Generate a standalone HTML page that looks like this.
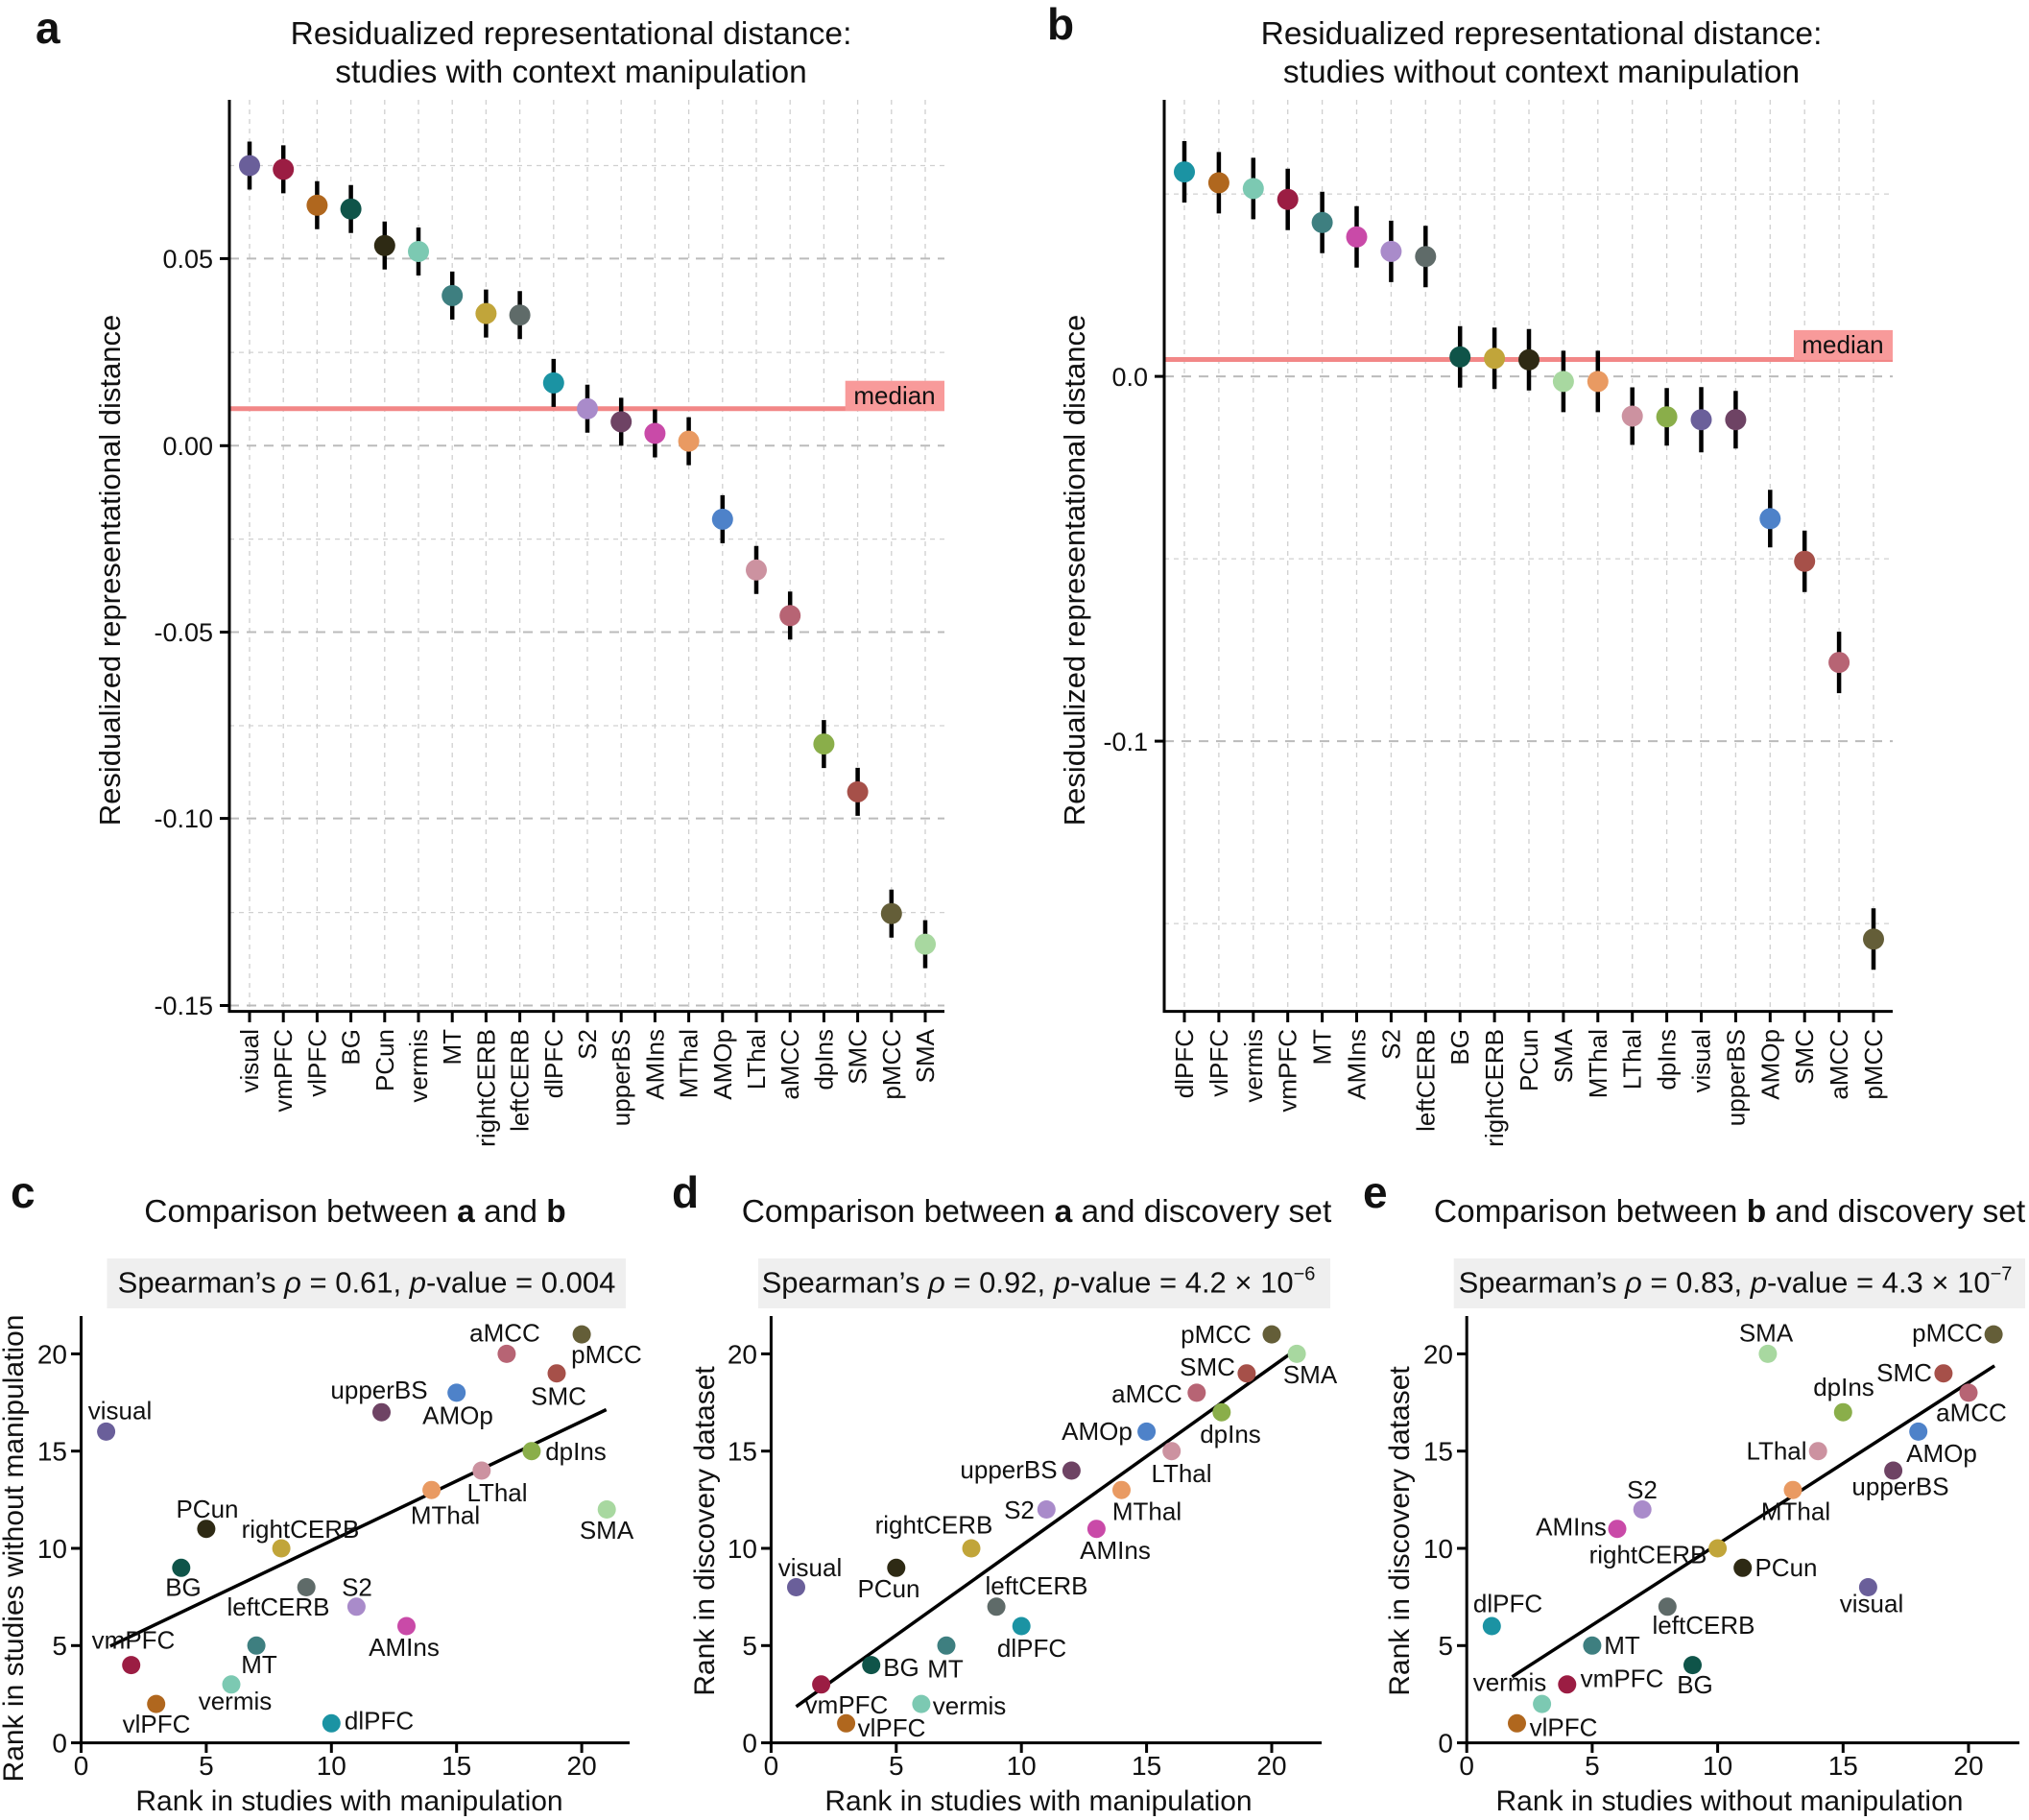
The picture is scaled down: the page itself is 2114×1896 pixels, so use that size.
<!DOCTYPE html>
<html><head><meta charset="utf-8"><style>
html,body{margin:0;padding:0;background:#fff}
svg{display:block}
text{font-family:"Liberation Sans",Arial,sans-serif;fill:#111}
</style></head><body>
<svg width="2114" height="1896" viewBox="0 0 2114 1896" xmlns="http://www.w3.org/2000/svg">
<rect width="2114" height="1896" fill="#fff"/>

<!-- ================= PANEL A ================= -->
<text x="37" y="45" font-size="46" font-weight="bold">a</text>
<text x="595" y="46" font-size="33.5" text-anchor="middle">Residualized representational distance:</text>
<text x="595" y="86" font-size="33.5" text-anchor="middle">studies with context manipulation</text>
<g stroke="#d0d0d0" stroke-width="1.3" stroke-dasharray="5,5">
<line x1="260" y1="104" x2="260" y2="1053"/><line x1="295.2" y1="104" x2="295.2" y2="1053"/><line x1="330.4" y1="104" x2="330.4" y2="1053"/><line x1="365.6" y1="104" x2="365.6" y2="1053"/><line x1="400.8" y1="104" x2="400.8" y2="1053"/><line x1="436" y1="104" x2="436" y2="1053"/><line x1="471.2" y1="104" x2="471.2" y2="1053"/><line x1="506.4" y1="104" x2="506.4" y2="1053"/><line x1="541.6" y1="104" x2="541.6" y2="1053"/><line x1="576.8" y1="104" x2="576.8" y2="1053"/><line x1="612" y1="104" x2="612" y2="1053"/><line x1="647.2" y1="104" x2="647.2" y2="1053"/><line x1="682.4" y1="104" x2="682.4" y2="1053"/><line x1="717.6" y1="104" x2="717.6" y2="1053"/><line x1="752.8" y1="104" x2="752.8" y2="1053"/><line x1="788" y1="104" x2="788" y2="1053"/><line x1="823.2" y1="104" x2="823.2" y2="1053"/><line x1="858.4" y1="104" x2="858.4" y2="1053"/><line x1="893.6" y1="104" x2="893.6" y2="1053"/><line x1="928.8" y1="104" x2="928.8" y2="1053"/><line x1="964" y1="104" x2="964" y2="1053"/>
<line x1="239" y1="172.5" x2="984" y2="172.5"/><line x1="239" y1="367.1" x2="984" y2="367.1"/><line x1="239" y1="561.6" x2="984" y2="561.6"/><line x1="239" y1="756" x2="984" y2="756"/><line x1="239" y1="950.6" x2="984" y2="950.6"/>
</g>
<g stroke="#bbb" stroke-width="2" stroke-dasharray="10,8">
<line x1="239" y1="269.4" x2="984" y2="269.4"/><line x1="239" y1="464.3" x2="984" y2="464.3"/><line x1="239" y1="658.5" x2="984" y2="658.5"/><line x1="239" y1="852.6" x2="984" y2="852.6"/><line x1="239" y1="1047.5" x2="984" y2="1047.5"/>
</g>
<line x1="239" y1="425.8" x2="984" y2="425.8" stroke="#f28787" stroke-width="5"/>
<rect x="880.7" y="396.7" width="103.3" height="31.3" fill="#f89a9a"/>
<text x="932" y="421" font-size="26" text-anchor="middle">median</text>
<g stroke="#000" stroke-width="3">
<polyline points="239,104 239,1053.6 984,1053.6" fill="none"/>
<line x1="229" y1="269.4" x2="239" y2="269.4"/><line x1="229" y1="464.3" x2="239" y2="464.3"/><line x1="229" y1="658.5" x2="239" y2="658.5"/><line x1="229" y1="852.6" x2="239" y2="852.6"/><line x1="229" y1="1047.5" x2="239" y2="1047.5"/>
<line x1="260" y1="1053" x2="260" y2="1065"/><line x1="295.2" y1="1053" x2="295.2" y2="1065"/><line x1="330.4" y1="1053" x2="330.4" y2="1065"/><line x1="365.6" y1="1053" x2="365.6" y2="1065"/><line x1="400.8" y1="1053" x2="400.8" y2="1065"/><line x1="436" y1="1053" x2="436" y2="1065"/><line x1="471.2" y1="1053" x2="471.2" y2="1065"/><line x1="506.4" y1="1053" x2="506.4" y2="1065"/><line x1="541.6" y1="1053" x2="541.6" y2="1065"/><line x1="576.8" y1="1053" x2="576.8" y2="1065"/><line x1="612" y1="1053" x2="612" y2="1065"/><line x1="647.2" y1="1053" x2="647.2" y2="1065"/><line x1="682.4" y1="1053" x2="682.4" y2="1065"/><line x1="717.6" y1="1053" x2="717.6" y2="1065"/><line x1="752.8" y1="1053" x2="752.8" y2="1065"/><line x1="788" y1="1053" x2="788" y2="1065"/><line x1="823.2" y1="1053" x2="823.2" y2="1065"/><line x1="858.4" y1="1053" x2="858.4" y2="1065"/><line x1="893.6" y1="1053" x2="893.6" y2="1065"/><line x1="928.8" y1="1053" x2="928.8" y2="1065"/><line x1="964" y1="1053" x2="964" y2="1065"/>
</g>
<g font-size="27" text-anchor="end">
<text x="222" y="279">0.05</text><text x="222" y="474">0.00</text><text x="222" y="668">-0.05</text><text x="222" y="862">-0.10</text><text x="222" y="1057">-0.15</text>
</g>
<text transform="translate(125,594) rotate(-90)" font-size="31" text-anchor="middle">Residualized representational distance</text>
<g font-size="26" text-anchor="end">
<text transform="translate(269,1072) rotate(-90)">visual</text>
<text transform="translate(304.2,1072) rotate(-90)">vmPFC</text>
<text transform="translate(339.4,1072) rotate(-90)">vlPFC</text>
<text transform="translate(374.6,1072) rotate(-90)">BG</text>
<text transform="translate(409.8,1072) rotate(-90)">PCun</text>
<text transform="translate(445,1072) rotate(-90)">vermis</text>
<text transform="translate(480.2,1072) rotate(-90)">MT</text>
<text transform="translate(515.4,1072) rotate(-90)">rightCERB</text>
<text transform="translate(550.6,1072) rotate(-90)">leftCERB</text>
<text transform="translate(585.8,1072) rotate(-90)">dlPFC</text>
<text transform="translate(621,1072) rotate(-90)">S2</text>
<text transform="translate(656.2,1072) rotate(-90)">upperBS</text>
<text transform="translate(691.4,1072) rotate(-90)">AMIns</text>
<text transform="translate(726.6,1072) rotate(-90)">MThal</text>
<text transform="translate(761.8,1072) rotate(-90)">AMOp</text>
<text transform="translate(797,1072) rotate(-90)">LThal</text>
<text transform="translate(832.2,1072) rotate(-90)">aMCC</text>
<text transform="translate(867.4,1072) rotate(-90)">dpIns</text>
<text transform="translate(902.6,1072) rotate(-90)">SMC</text>
<text transform="translate(937.8,1072) rotate(-90)">pMCC</text>
<text transform="translate(973,1072) rotate(-90)">SMA</text>
</g>
<g stroke="#000" stroke-width="4.5">
<line x1="260" y1="147.5" x2="260" y2="197.5"/><line x1="295.2" y1="151.4" x2="295.2" y2="201.4"/><line x1="330.4" y1="188.8" x2="330.4" y2="238.8"/><line x1="365.6" y1="192.7" x2="365.6" y2="242.7"/><line x1="400.8" y1="230.8" x2="400.8" y2="280.8"/><line x1="436" y1="237" x2="436" y2="287"/><line x1="471.2" y1="282.9" x2="471.2" y2="332.9"/><line x1="506.4" y1="301.6" x2="506.4" y2="351.6"/><line x1="541.6" y1="303.2" x2="541.6" y2="353.2"/><line x1="576.8" y1="373.9" x2="576.8" y2="423.9"/><line x1="612" y1="400.8" x2="612" y2="450.8"/><line x1="647.2" y1="414.4" x2="647.2" y2="464.4"/><line x1="682.4" y1="426.5" x2="682.4" y2="476.5"/><line x1="717.6" y1="434.6" x2="717.6" y2="484.6"/><line x1="752.8" y1="515.9" x2="752.8" y2="565.9"/><line x1="788" y1="568.8" x2="788" y2="618.8"/><line x1="823.2" y1="616.3" x2="823.2" y2="666.3"/><line x1="858.4" y1="750.1" x2="858.4" y2="800.1"/><line x1="893.6" y1="799.9" x2="893.6" y2="849.9"/><line x1="928.8" y1="926.7" x2="928.8" y2="976.7"/><line x1="964" y1="958.6" x2="964" y2="1008.6"/>
</g>
<g>
<circle cx="260" cy="172.5" r="11" fill="#6a5f9a"/><circle cx="295.2" cy="176.4" r="11" fill="#9b1d43"/><circle cx="330.4" cy="213.8" r="11" fill="#b0671e"/><circle cx="365.6" cy="217.7" r="11" fill="#0f5449"/><circle cx="400.8" cy="255.8" r="11" fill="#2e2a14"/><circle cx="436" cy="262" r="11" fill="#7cc9b2"/><circle cx="471.2" cy="307.9" r="11" fill="#3e7f80"/><circle cx="506.4" cy="326.6" r="11" fill="#c1a53a"/><circle cx="541.6" cy="328.2" r="11" fill="#5f6b69"/><circle cx="576.8" cy="398.9" r="11" fill="#1b93a3"/><circle cx="612" cy="425.8" r="11" fill="#a98bca"/><circle cx="647.2" cy="439.4" r="11" fill="#6e4364"/><circle cx="682.4" cy="451.5" r="11" fill="#c94aa8"/><circle cx="717.6" cy="459.6" r="11" fill="#e99a62"/><circle cx="752.8" cy="540.9" r="11" fill="#4e82c9"/><circle cx="788" cy="593.8" r="11" fill="#cc92a0"/><circle cx="823.2" cy="641.3" r="11" fill="#b76474"/><circle cx="858.4" cy="775.1" r="11" fill="#8aae4a"/><circle cx="893.6" cy="824.9" r="11" fill="#a65049"/><circle cx="928.8" cy="951.7" r="11" fill="#645e38"/><circle cx="964" cy="983.6" r="11" fill="#a8d8a0"/>
</g>

<!-- ================= PANEL B ================= -->
<text x="1091" y="41" font-size="46" font-weight="bold">b</text>
<text x="1606" y="46" font-size="33.5" text-anchor="middle">Residualized representational distance:</text>
<text x="1606" y="86" font-size="33.5" text-anchor="middle">studies without context manipulation</text>
<g stroke="#d0d0d0" stroke-width="1.3" stroke-dasharray="5,5">
<line x1="1234" y1="104" x2="1234" y2="1053"/><line x1="1269.9" y1="104" x2="1269.9" y2="1053"/><line x1="1305.8" y1="104" x2="1305.8" y2="1053"/><line x1="1341.7" y1="104" x2="1341.7" y2="1053"/><line x1="1377.6" y1="104" x2="1377.6" y2="1053"/><line x1="1413.5" y1="104" x2="1413.5" y2="1053"/><line x1="1449.4" y1="104" x2="1449.4" y2="1053"/><line x1="1485.3" y1="104" x2="1485.3" y2="1053"/><line x1="1521.2" y1="104" x2="1521.2" y2="1053"/><line x1="1557.1" y1="104" x2="1557.1" y2="1053"/><line x1="1593" y1="104" x2="1593" y2="1053"/><line x1="1628.9" y1="104" x2="1628.9" y2="1053"/><line x1="1664.8" y1="104" x2="1664.8" y2="1053"/><line x1="1700.7" y1="104" x2="1700.7" y2="1053"/><line x1="1736.6" y1="104" x2="1736.6" y2="1053"/><line x1="1772.5" y1="104" x2="1772.5" y2="1053"/><line x1="1808.4" y1="104" x2="1808.4" y2="1053"/><line x1="1844.3" y1="104" x2="1844.3" y2="1053"/><line x1="1880.2" y1="104" x2="1880.2" y2="1053"/><line x1="1916.1" y1="104" x2="1916.1" y2="1053"/><line x1="1952" y1="104" x2="1952" y2="1053"/>
<line x1="1213" y1="202.1" x2="1972" y2="202.1"/><line x1="1213" y1="582.1" x2="1972" y2="582.1"/><line x1="1213" y1="962.1" x2="1972" y2="962.1"/>
</g>
<g stroke="#bbb" stroke-width="2" stroke-dasharray="10,8">
<line x1="1213" y1="392.1" x2="1972" y2="392.1"/><line x1="1213" y1="772.1" x2="1972" y2="772.1"/>
</g>
<line x1="1213" y1="374.5" x2="1972" y2="374.5" stroke="#f28787" stroke-width="5"/>
<rect x="1869" y="343.9" width="103" height="31" fill="#f89a9a"/>
<text x="1920" y="368" font-size="26" text-anchor="middle">median</text>
<g stroke="#000" stroke-width="3">
<polyline points="1213,104 1213,1053.6 1972,1053.6" fill="none"/>
<line x1="1203" y1="392.1" x2="1213" y2="392.1"/><line x1="1203" y1="772.1" x2="1213" y2="772.1"/>
<line x1="1234" y1="1053" x2="1234" y2="1065"/><line x1="1269.9" y1="1053" x2="1269.9" y2="1065"/><line x1="1305.8" y1="1053" x2="1305.8" y2="1065"/><line x1="1341.7" y1="1053" x2="1341.7" y2="1065"/><line x1="1377.6" y1="1053" x2="1377.6" y2="1065"/><line x1="1413.5" y1="1053" x2="1413.5" y2="1065"/><line x1="1449.4" y1="1053" x2="1449.4" y2="1065"/><line x1="1485.3" y1="1053" x2="1485.3" y2="1065"/><line x1="1521.2" y1="1053" x2="1521.2" y2="1065"/><line x1="1557.1" y1="1053" x2="1557.1" y2="1065"/><line x1="1593" y1="1053" x2="1593" y2="1065"/><line x1="1628.9" y1="1053" x2="1628.9" y2="1065"/><line x1="1664.8" y1="1053" x2="1664.8" y2="1065"/><line x1="1700.7" y1="1053" x2="1700.7" y2="1065"/><line x1="1736.6" y1="1053" x2="1736.6" y2="1065"/><line x1="1772.5" y1="1053" x2="1772.5" y2="1065"/><line x1="1808.4" y1="1053" x2="1808.4" y2="1065"/><line x1="1844.3" y1="1053" x2="1844.3" y2="1065"/><line x1="1880.2" y1="1053" x2="1880.2" y2="1065"/><line x1="1916.1" y1="1053" x2="1916.1" y2="1065"/><line x1="1952" y1="1053" x2="1952" y2="1065"/>
</g>
<g font-size="27" text-anchor="end">
<text x="1196" y="402">0.0</text><text x="1196" y="782">-0.1</text>
</g>
<text transform="translate(1130,594) rotate(-90)" font-size="31" text-anchor="middle">Residualized representational distance</text>
<g font-size="26" text-anchor="end">
<text transform="translate(1243,1072) rotate(-90)">dlPFC</text>
<text transform="translate(1278.9,1072) rotate(-90)">vlPFC</text>
<text transform="translate(1314.8,1072) rotate(-90)">vermis</text>
<text transform="translate(1350.7,1072) rotate(-90)">vmPFC</text>
<text transform="translate(1386.6,1072) rotate(-90)">MT</text>
<text transform="translate(1422.5,1072) rotate(-90)">AMIns</text>
<text transform="translate(1458.4,1072) rotate(-90)">S2</text>
<text transform="translate(1494.3,1072) rotate(-90)">leftCERB</text>
<text transform="translate(1530.2,1072) rotate(-90)">BG</text>
<text transform="translate(1566.1,1072) rotate(-90)">rightCERB</text>
<text transform="translate(1602,1072) rotate(-90)">PCun</text>
<text transform="translate(1637.9,1072) rotate(-90)">SMA</text>
<text transform="translate(1673.8,1072) rotate(-90)">MThal</text>
<text transform="translate(1709.7,1072) rotate(-90)">LThal</text>
<text transform="translate(1745.6,1072) rotate(-90)">dpIns</text>
<text transform="translate(1781.5,1072) rotate(-90)">visual</text>
<text transform="translate(1817.4,1072) rotate(-90)">upperBS</text>
<text transform="translate(1853.3,1072) rotate(-90)">AMOp</text>
<text transform="translate(1889.2,1072) rotate(-90)">SMC</text>
<text transform="translate(1925.1,1072) rotate(-90)">aMCC</text>
<text transform="translate(1961,1072) rotate(-90)">pMCC</text>
</g>
<g stroke="#000" stroke-width="4.5">
<line x1="1234" y1="147" x2="1234" y2="211"/><line x1="1269.9" y1="158.4" x2="1269.9" y2="222.4"/><line x1="1305.8" y1="164.4" x2="1305.8" y2="228.4"/><line x1="1341.7" y1="175.7" x2="1341.7" y2="239.7"/><line x1="1377.6" y1="199.8" x2="1377.6" y2="263.8"/><line x1="1413.5" y1="214.8" x2="1413.5" y2="278.8"/><line x1="1449.4" y1="229.9" x2="1449.4" y2="293.9"/><line x1="1485.3" y1="235.2" x2="1485.3" y2="299.2"/><line x1="1521.2" y1="339.8" x2="1521.2" y2="403.8"/><line x1="1557.1" y1="341.3" x2="1557.1" y2="405.3"/><line x1="1593" y1="342.8" x2="1593" y2="406.8"/><line x1="1628.9" y1="365.4" x2="1628.9" y2="429.4"/><line x1="1664.8" y1="365.4" x2="1664.8" y2="429.4"/><line x1="1700.7" y1="403.5" x2="1700.7" y2="463.5"/><line x1="1736.6" y1="404.2" x2="1736.6" y2="464.2"/><line x1="1772.5" y1="403.2" x2="1772.5" y2="471.2"/><line x1="1808.4" y1="407.2" x2="1808.4" y2="467.2"/><line x1="1844.3" y1="510.3" x2="1844.3" y2="570.3"/><line x1="1880.2" y1="552.7" x2="1880.2" y2="616.7"/><line x1="1916.1" y1="658.1" x2="1916.1" y2="722.1"/><line x1="1952" y1="946.3" x2="1952" y2="1010.3"/>
</g>
<g>
<circle cx="1234" cy="179.1" r="11" fill="#1b93a3"/><circle cx="1269.9" cy="190.4" r="11" fill="#b0671e"/><circle cx="1305.8" cy="196.4" r="11" fill="#7cc9b2"/><circle cx="1341.7" cy="207.7" r="11" fill="#9b1d43"/><circle cx="1377.6" cy="231.8" r="11" fill="#3e7f80"/><circle cx="1413.5" cy="246.8" r="11" fill="#c94aa8"/><circle cx="1449.4" cy="261.9" r="11" fill="#a98bca"/><circle cx="1485.3" cy="267.2" r="11" fill="#5f6b69"/><circle cx="1521.2" cy="371.8" r="11" fill="#0f5449"/><circle cx="1557.1" cy="373.3" r="11" fill="#c1a53a"/><circle cx="1593" cy="374.8" r="11" fill="#2e2a14"/><circle cx="1628.9" cy="397.4" r="11" fill="#a8d8a0"/><circle cx="1664.8" cy="397.4" r="11" fill="#e99a62"/><circle cx="1700.7" cy="433.5" r="11" fill="#cc92a0"/><circle cx="1736.6" cy="434.2" r="11" fill="#8aae4a"/><circle cx="1772.5" cy="437.2" r="11" fill="#6a5f9a"/><circle cx="1808.4" cy="437.2" r="11" fill="#6e4364"/><circle cx="1844.3" cy="540.3" r="11" fill="#4e82c9"/><circle cx="1880.2" cy="584.7" r="11" fill="#a65049"/><circle cx="1916.1" cy="690.1" r="11" fill="#b76474"/><circle cx="1952" cy="978.3" r="11" fill="#645e38"/>
</g>

<!-- ================= PANEL C ================= -->
<text x="11" y="1258" font-size="46" font-weight="bold">c</text>
<text x="370" y="1273" font-size="33.5" text-anchor="middle">Comparison between <tspan font-weight="bold">a</tspan> and <tspan font-weight="bold">b</tspan></text>
<rect x="111.5" y="1311" width="540.5" height="52" fill="#efefef"/>
<text x="382" y="1346.5" font-size="31" text-anchor="middle">Spearman’s <tspan font-style="italic">ρ</tspan> = 0.61, <tspan font-style="italic">p</tspan>-value = 0.004</text>
<g stroke="#000" stroke-width="3" fill="none">
<polyline points="84.5,1371 84.5,1815.6 656,1815.6"/>
<line x1="84.5" y1="1815.6" x2="84.5" y2="1826"/><line x1="214.9" y1="1815.6" x2="214.9" y2="1826"/><line x1="345.3" y1="1815.6" x2="345.3" y2="1826"/><line x1="475.7" y1="1815.6" x2="475.7" y2="1826"/><line x1="606.1" y1="1815.6" x2="606.1" y2="1826"/>
<line x1="74" y1="1815.6" x2="84.5" y2="1815.6"/><line x1="74" y1="1714.3" x2="84.5" y2="1714.3"/><line x1="74" y1="1613" x2="84.5" y2="1613"/><line x1="74" y1="1511.7" x2="84.5" y2="1511.7"/><line x1="74" y1="1410.4" x2="84.5" y2="1410.4"/>
</g>
<g font-size="28" text-anchor="middle">
<text x="84.5" y="1849">0</text><text x="214.9" y="1849">5</text><text x="345.3" y="1849">10</text><text x="475.7" y="1849">15</text><text x="606.1" y="1849">20</text>
</g>
<g font-size="28" text-anchor="end">
<text x="70" y="1825.5">0</text><text x="70" y="1724.2">5</text><text x="70" y="1622.9">10</text><text x="70" y="1521.6">15</text><text x="70" y="1420.3">20</text>
</g>
<text x="364" y="1886" font-size="30" text-anchor="middle">Rank in studies with manipulation</text>
<text transform="translate(24,1613) rotate(-90)" font-size="30" text-anchor="middle">Rank in studies without manipulation</text>
<line x1="114.8" y1="1714.9" x2="631.7" y2="1468.5" stroke="#000" stroke-width="3.5"/>
<g>
<circle cx="110.6" cy="1491.4" r="9.5" fill="#6a5f9a"/><circle cx="136.7" cy="1734.6" r="9.5" fill="#9b1d43"/><circle cx="162.7" cy="1775.1" r="9.5" fill="#b0671e"/><circle cx="188.8" cy="1633.3" r="9.5" fill="#0f5449"/><circle cx="214.9" cy="1592.7" r="9.5" fill="#2e2a14"/><circle cx="241" cy="1754.8" r="9.5" fill="#7cc9b2"/><circle cx="267.1" cy="1714.3" r="9.5" fill="#3e7f80"/><circle cx="293.1" cy="1613" r="9.5" fill="#c1a53a"/><circle cx="319.2" cy="1653.5" r="9.5" fill="#5f6b69"/><circle cx="345.3" cy="1795.3" r="9.5" fill="#1b93a3"/><circle cx="371.4" cy="1673.8" r="9.5" fill="#a98bca"/><circle cx="397.5" cy="1471.2" r="9.5" fill="#6e4364"/><circle cx="423.5" cy="1694" r="9.5" fill="#c94aa8"/><circle cx="449.6" cy="1552.2" r="9.5" fill="#e99a62"/><circle cx="475.7" cy="1450.9" r="9.5" fill="#4e82c9"/><circle cx="501.8" cy="1532" r="9.5" fill="#cc92a0"/><circle cx="527.9" cy="1410.4" r="9.5" fill="#b76474"/><circle cx="553.9" cy="1511.7" r="9.5" fill="#8aae4a"/><circle cx="580" cy="1430.7" r="9.5" fill="#a65049"/><circle cx="606.1" cy="1390.1" r="9.5" fill="#645e38"/><circle cx="632.2" cy="1572.5" r="9.5" fill="#a8d8a0"/>
</g>
<g font-size="26" text-anchor="middle">
<text x="125" y="1478.5">visual</text><text x="139" y="1717.3">vmPFC</text><text x="163" y="1805.2">vlPFC</text><text x="191" y="1662.7">BG</text><text x="216" y="1581.1">PCun</text><text x="245" y="1780.8">vermis</text><text x="270" y="1743.1">MT</text><text x="313" y="1601.9">rightCERB</text><text x="290" y="1683.1">leftCERB</text><text x="395" y="1801.6">dlPFC</text><text x="372" y="1662.7">S2</text><text x="395" y="1456.8">upperBS</text><text x="421" y="1724.9">AMIns</text><text x="464" y="1587.7">MThal</text><text x="477" y="1483.4">AMOp</text><text x="518" y="1564.2">LThal</text><text x="526" y="1397.3">aMCC</text><text x="600" y="1521.1">dpIns</text><text x="582" y="1463.4">SMC</text><text x="632" y="1419.9">pMCC</text><text x="632" y="1603.2">SMA</text>
</g>

<!-- ================= PANEL D ================= -->
<text x="700" y="1258" font-size="46" font-weight="bold">d</text>
<text x="1080" y="1273" font-size="33.5" text-anchor="middle">Comparison between <tspan font-weight="bold">a</tspan> and discovery set</text>
<rect x="790" y="1311" width="596" height="52" fill="#efefef"/>
<text x="1082" y="1346.5" font-size="31" text-anchor="middle">Spearman’s <tspan font-style="italic">ρ</tspan> = 0.92, <tspan font-style="italic">p</tspan>-value = 4.2 × 10<tspan font-size="20" dy="-13">−6</tspan></text>
<g stroke="#000" stroke-width="3" fill="none">
<polyline points="803.4,1371 803.4,1815.6 1377,1815.6"/>
<line x1="803.4" y1="1815.6" x2="803.4" y2="1826"/><line x1="933.8" y1="1815.6" x2="933.8" y2="1826"/><line x1="1064.2" y1="1815.6" x2="1064.2" y2="1826"/><line x1="1194.6" y1="1815.6" x2="1194.6" y2="1826"/><line x1="1325" y1="1815.6" x2="1325" y2="1826"/>
<line x1="793" y1="1815.6" x2="803.4" y2="1815.6"/><line x1="793" y1="1714.3" x2="803.4" y2="1714.3"/><line x1="793" y1="1613" x2="803.4" y2="1613"/><line x1="793" y1="1511.7" x2="803.4" y2="1511.7"/><line x1="793" y1="1410.4" x2="803.4" y2="1410.4"/>
</g>
<g font-size="28" text-anchor="middle">
<text x="803.4" y="1849">0</text><text x="933.8" y="1849">5</text><text x="1064.2" y="1849">10</text><text x="1194.6" y="1849">15</text><text x="1325" y="1849">20</text>
</g>
<g font-size="28" text-anchor="end">
<text x="789" y="1825.5">0</text><text x="789" y="1724.2">5</text><text x="789" y="1622.9">10</text><text x="789" y="1521.6">15</text><text x="789" y="1420.3">20</text>
</g>
<text x="1082" y="1886" font-size="30" text-anchor="middle">Rank in studies with manipulation</text>
<text transform="translate(744,1595) rotate(-90)" font-size="30" text-anchor="middle">Rank in discovery dataset</text>
<line x1="829.5" y1="1777.9" x2="1349.7" y2="1406.4" stroke="#000" stroke-width="3.5"/>
<g>
<circle cx="829.5" cy="1653.5" r="9.5" fill="#6a5f9a"/><circle cx="855.6" cy="1754.8" r="9.5" fill="#9b1d43"/><circle cx="881.6" cy="1795.3" r="9.5" fill="#b0671e"/><circle cx="907.7" cy="1734.6" r="9.5" fill="#0f5449"/><circle cx="933.8" cy="1633.3" r="9.5" fill="#2e2a14"/><circle cx="959.9" cy="1775.1" r="9.5" fill="#7cc9b2"/><circle cx="986" cy="1714.3" r="9.5" fill="#3e7f80"/><circle cx="1012" cy="1613" r="9.5" fill="#c1a53a"/><circle cx="1038.1" cy="1673.8" r="9.5" fill="#5f6b69"/><circle cx="1064.2" cy="1694" r="9.5" fill="#1b93a3"/><circle cx="1090.3" cy="1572.5" r="9.5" fill="#a98bca"/><circle cx="1116.4" cy="1532" r="9.5" fill="#6e4364"/><circle cx="1142.4" cy="1592.7" r="9.5" fill="#c94aa8"/><circle cx="1168.5" cy="1552.2" r="9.5" fill="#e99a62"/><circle cx="1194.6" cy="1491.4" r="9.5" fill="#4e82c9"/><circle cx="1220.7" cy="1511.7" r="9.5" fill="#cc92a0"/><circle cx="1246.8" cy="1450.9" r="9.5" fill="#b76474"/><circle cx="1272.8" cy="1471.2" r="9.5" fill="#8aae4a"/><circle cx="1298.9" cy="1430.7" r="9.5" fill="#a65049"/><circle cx="1325" cy="1390.1" r="9.5" fill="#645e38"/><circle cx="1351.1" cy="1410.4" r="9.5" fill="#a8d8a0"/>
</g>
<g font-size="26" text-anchor="middle">
<text x="844" y="1641.9">visual</text><text x="926" y="1664.1">PCun</text><text x="973" y="1597.5">rightCERB</text><text x="1062" y="1581.9">S2</text><text x="1051" y="1539.8">upperBS</text><text x="1143" y="1499.8">AMOp</text><text x="1195" y="1461.2">aMCC</text><text x="1258" y="1433.2">SMC</text><text x="1267" y="1399.1">pMCC</text><text x="1365" y="1440.8">SMA</text><text x="1282" y="1502.9">dpIns</text><text x="1231" y="1544.2">LThal</text><text x="1195" y="1583.3">MThal</text><text x="1162" y="1624.1">AMIns</text><text x="1080" y="1660.9">leftCERB</text><text x="1075" y="1726.2">dlPFC</text><text x="939" y="1746.2">BG</text><text x="985" y="1747.5">MT</text><text x="882" y="1785.2">vmPFC</text><text x="1010" y="1786.1">vermis</text><text x="929" y="1809.2">vlPFC</text>
</g>

<!-- ================= PANEL E ================= -->
<text x="1420" y="1258" font-size="46" font-weight="bold">e</text>
<text x="1802" y="1273" font-size="33.5" text-anchor="middle">Comparison between <tspan font-weight="bold">b</tspan> and discovery set</text>
<rect x="1514.7" y="1311" width="595.3" height="52" fill="#efefef"/>
<text x="1808" y="1346.5" font-size="31" text-anchor="middle">Spearman’s <tspan font-style="italic">ρ</tspan> = 0.83, <tspan font-style="italic">p</tspan>-value = 4.3 × 10<tspan font-size="20" dy="-13">−7</tspan></text>
<g stroke="#000" stroke-width="3" fill="none">
<polyline points="1528.2,1371 1528.2,1815.6 2104,1815.6"/>
<line x1="1528.2" y1="1815.6" x2="1528.2" y2="1826"/><line x1="1658.9" y1="1815.6" x2="1658.9" y2="1826"/><line x1="1789.6" y1="1815.6" x2="1789.6" y2="1826"/><line x1="1920.3" y1="1815.6" x2="1920.3" y2="1826"/><line x1="2051" y1="1815.6" x2="2051" y2="1826"/>
<line x1="1518" y1="1815.6" x2="1528.2" y2="1815.6"/><line x1="1518" y1="1714.3" x2="1528.2" y2="1714.3"/><line x1="1518" y1="1613" x2="1528.2" y2="1613"/><line x1="1518" y1="1511.7" x2="1528.2" y2="1511.7"/><line x1="1518" y1="1410.4" x2="1528.2" y2="1410.4"/>
</g>
<g font-size="28" text-anchor="middle">
<text x="1528.2" y="1849">0</text><text x="1658.9" y="1849">5</text><text x="1789.6" y="1849">10</text><text x="1920.3" y="1849">15</text><text x="2051" y="1849">20</text>
</g>
<g font-size="28" text-anchor="end">
<text x="1514" y="1825.5">0</text><text x="1514" y="1724.2">5</text><text x="1514" y="1622.9">10</text><text x="1514" y="1521.6">15</text><text x="1514" y="1420.3">20</text>
</g>
<text x="1802" y="1886" font-size="30" text-anchor="middle">Rank in studies without manipulation</text>
<text transform="translate(1468,1595) rotate(-90)" font-size="30" text-anchor="middle">Rank in discovery dataset</text>
<line x1="1575.4" y1="1746.8" x2="2078.1" y2="1422.8" stroke="#000" stroke-width="3.5"/>
<g>
<circle cx="1554.3" cy="1694" r="9.5" fill="#1b93a3"/><circle cx="1580.5" cy="1795.3" r="9.5" fill="#b0671e"/><circle cx="1606.6" cy="1775.1" r="9.5" fill="#7cc9b2"/><circle cx="1632.8" cy="1754.8" r="9.5" fill="#9b1d43"/><circle cx="1658.9" cy="1714.3" r="9.5" fill="#3e7f80"/><circle cx="1685" cy="1592.7" r="9.5" fill="#c94aa8"/><circle cx="1711.2" cy="1572.5" r="9.5" fill="#a98bca"/><circle cx="1737.3" cy="1673.8" r="9.5" fill="#5f6b69"/><circle cx="1763.5" cy="1734.6" r="9.5" fill="#0f5449"/><circle cx="1789.6" cy="1613" r="9.5" fill="#c1a53a"/><circle cx="1815.7" cy="1633.3" r="9.5" fill="#2e2a14"/><circle cx="1841.9" cy="1410.4" r="9.5" fill="#a8d8a0"/><circle cx="1868" cy="1552.2" r="9.5" fill="#e99a62"/><circle cx="1894.2" cy="1511.7" r="9.5" fill="#cc92a0"/><circle cx="1920.3" cy="1471.2" r="9.5" fill="#8aae4a"/><circle cx="1946.4" cy="1653.5" r="9.5" fill="#6a5f9a"/><circle cx="1972.6" cy="1532" r="9.5" fill="#6e4364"/><circle cx="1998.7" cy="1491.4" r="9.5" fill="#4e82c9"/><circle cx="2024.9" cy="1430.7" r="9.5" fill="#a65049"/><circle cx="2051" cy="1450.9" r="9.5" fill="#b76474"/><circle cx="2077.1" cy="1390.1" r="9.5" fill="#645e38"/>
</g>
<g font-size="26" text-anchor="middle">
<text x="1840" y="1397.7">SMA</text><text x="2029" y="1397.7">pMCC</text><text x="1984" y="1439">SMC</text><text x="1921" y="1454.1">dpIns</text><text x="2054" y="1480.7">aMCC</text><text x="1851" y="1520.7">LThal</text><text x="2023" y="1522.9">AMOp</text><text x="1980" y="1557.5">upperBS</text><text x="1711" y="1561.1">S2</text><text x="1871" y="1583.3">MThal</text><text x="1637" y="1599.7">AMIns</text><text x="1717" y="1628.5">rightCERB</text><text x="1861" y="1641.9">PCun</text><text x="1950" y="1679.6">visual</text><text x="1571" y="1679.6">dlPFC</text><text x="1775" y="1701.8">leftCERB</text><text x="1690" y="1723.1">MT</text><text x="1690" y="1757.3">vmPFC</text><text x="1766" y="1763.9">BG</text><text x="1573" y="1761.7">vermis</text><text x="1629" y="1808.3">vlPFC</text>
</g>
</svg>
</body></html>
